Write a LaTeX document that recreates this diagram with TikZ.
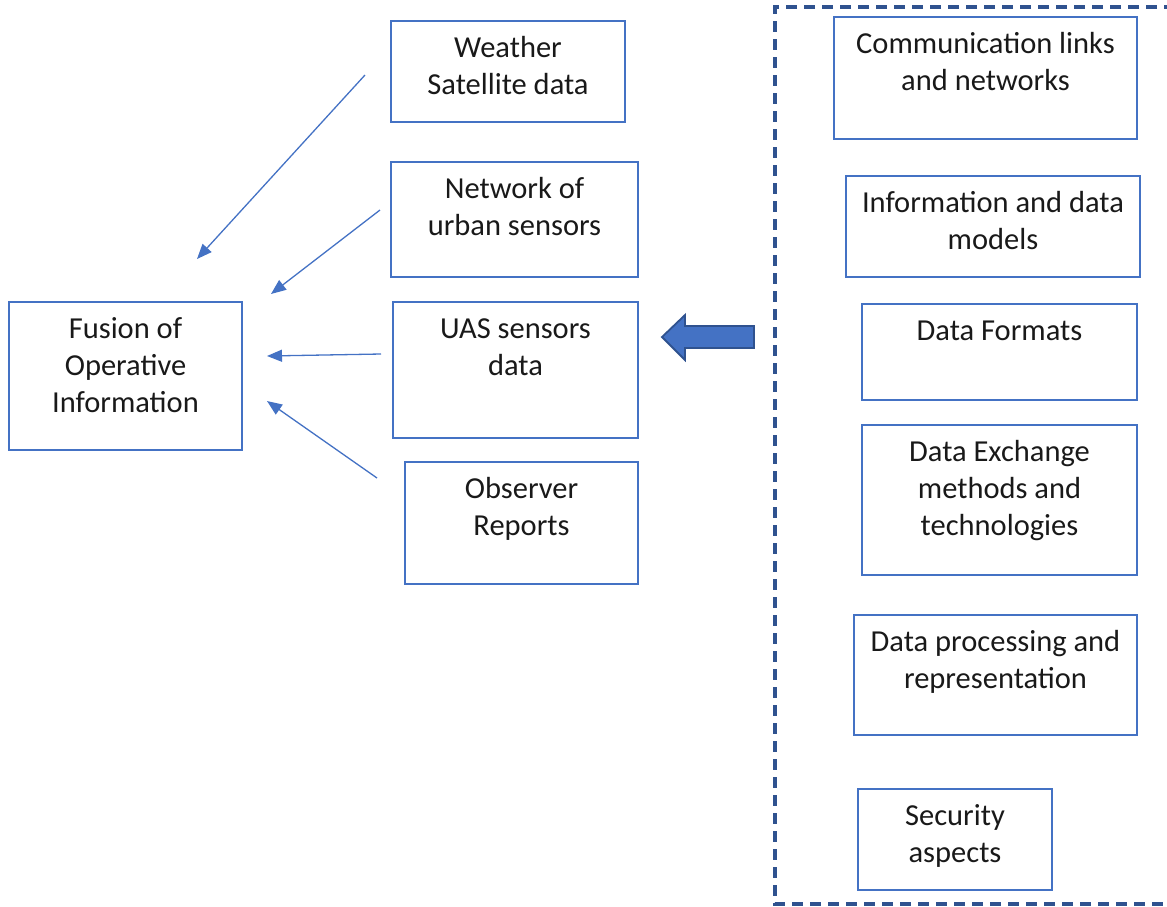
\documentclass[tikz,border=0pt]{standalone}
\usepackage{fontspec}
\setmainfont{Carlito}
\usetikzlibrary{arrows.meta}
\definecolor{boxblue}{HTML}{4472C4}
\definecolor{darkblue}{HTML}{2F528F}
\tikzset{
  bx/.style={draw=boxblue, line width=1.5pt, inner sep=0pt, outer sep=0pt, text=black!90},
  arr/.style={draw=boxblue, line width=1.3pt, -{Triangle[length=15pt,width=12pt]}},
  dashbox/.style={draw=darkblue, line width=3.2pt, dash pattern=on 11pt off 7pt},
  blockarrow/.style={fill=boxblue, draw=darkblue, line width=1.8pt, line join=miter}
}
\newcommand\bx[6]{%
  \pgfmathsetmacro\bxw{#4-#2}\pgfmathsetmacro\bxh{#5-#3}%
  \node[bx, anchor=north west] (#1) at (#2,#3)
    {\parbox[c][\bxh pt][t]{\bxw pt}{\centering\fontsize{30.5}{37}\selectfont\rule{0pt}{36pt}#6}};}
\begin{document}
\begin{tikzpicture}[x=1pt,y=-1pt]
\useasboundingbox (0,0) rectangle (1167,906);
% dashed group (right side runs off the page)
\draw[dashbox] (1175,7) -- (775,7) -- (775,904) -- (1175,904);
% left side boxes
\bx{weather}{391}{21}{625}{122}{Weather\\Satellite data}
\bx{network}{391}{162}{638}{277}{Network of\\urban sensors}
\bx{uas}{393}{302}{638}{438}{UAS sensors\\data}
\bx{observer}{405}{462}{638}{584}{Observer\\Reports}
\bx{fusion}{9}{302}{242}{450}{Fusion of\\Operative\\Information}
% right side boxes
\bx{comm}{834}{17}{1137}{139}{Communication links\\and networks}
\bx{info}{846}{176}{1140}{277}{Information and data\\models}
\bx{formats}{862}{304}{1137}{400}{Data Formats}
\bx{exchange}{862}{425}{1137}{575}{Data Exchange\\methods and\\technologies}
\bx{processing}{854}{615}{1137}{735}{Data processing and\\representation}
\bx{security}{858}{789}{1052}{890}{Security\\aspects}
% thin arrows
\coordinate (s1) at (365,75);  \coordinate (e1) at (197,259);
\coordinate (s2) at (380,210); \coordinate (e2) at (271,294);
\coordinate (s3) at (381,354); \coordinate (e3) at (267,356);
\coordinate (s4) at (377,478); \coordinate (e4) at (267,401);
\draw[arr] (s1) -- (e1);
\draw[arr] (s2) -- (e2);
\draw[arr] (s3) -- (e3);
\draw[arr] (s4) -- (e4);
% block arrow
\draw[blockarrow] (754,326) -- (685,326) -- (685,315) -- (662,337) -- (685,360) -- (685,348) -- (754,348) -- cycle;
\end{tikzpicture}
\end{document}
